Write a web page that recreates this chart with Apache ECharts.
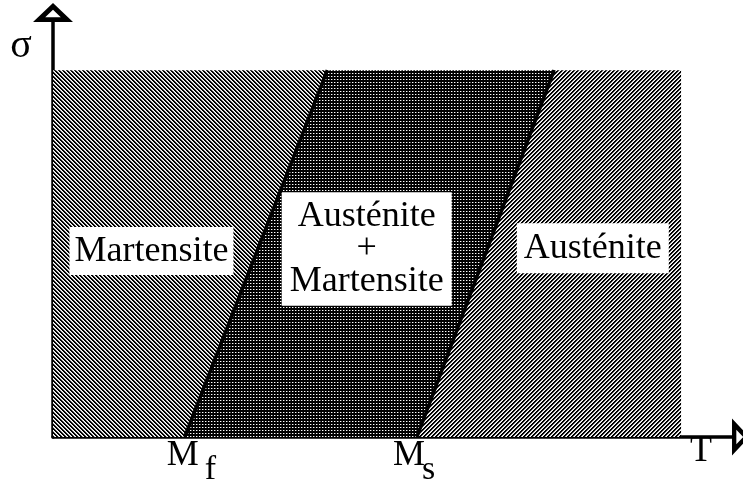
<!DOCTYPE html>
<html>
<head>
<meta charset="utf-8">
<title>Diagramme σ - T</title>
<script src="https://cdn.jsdelivr.net/npm/echarts@6/dist/echarts.min.js"></script>
<style>
    html, body { margin: 0; padding: 0; background: #fff; }
    #chart { width: 743px; height: 487px; }
</style>
</head>
<body>
<div id="chart"></div>
<script>
    // zones, de gauche a droite
    var phases = ['Martensite', 'Austénite\n+\nMartensite', 'Austénite'];
    // T aux coins de chaque zone
    var tBottomLeft = [0, 19.4, 53.6];
    var tTopLeft = [0, 40.4, 73.8];
    var tTopRight = [40.4, 73.8, 92.5];
    var tBottomRight = [19.4, 53.6, 92.5];
    var sigmaTop = 88.4;
    // centre des etiquettes
    var labelT = [14.5, 46.2, 79.5];
    var labelSigma = [44.8, 45.3, 45.5];
    // droites Mf et Ms
    var lineSubs = ['f', 's'];
    var lineBottomT = [19.4, 53.6];
    var lineTopT = [40.4, 73.8];

    var FONT = '"Liberation Serif", "Times New Roman", serif';

    // petits motifs de remplissage
    function tile(size, draw) {
        var c = document.createElement('canvas');
        c.width = size;
        c.height = size;
        var ctx = c.getContext('2d');
        ctx.fillStyle = '#fff';
        ctx.fillRect(0, 0, size, size);
        draw(ctx);
        return { image: c, repeat: 'repeat' };
    }
    var hatchBack = tile(4, function (ctx) {
        for (var i = 0; i < 4; i++) {
            ctx.fillStyle = '#000';
            ctx.fillRect(i, i, 1, 1);
            ctx.fillRect((i + 1) % 4, i, 1, 1);
            ctx.fillStyle = '#bbb';
            ctx.fillRect((i + 2) % 4, i, 1, 1);
        }
    });
    var hatchFwd = tile(4, function (ctx) {
        for (var i = 0; i < 4; i++) {
            ctx.fillStyle = '#000';
            ctx.fillRect(3 - i, i, 1, 1);
            ctx.fillRect((4 - i) % 4, i, 1, 1);
            ctx.fillStyle = '#bbb';
            ctx.fillRect((5 - i) % 4, i, 1, 1);
        }
    });
    var dots = tile(3, function (ctx) {
        ctx.fillStyle = '#000';
        ctx.fillRect(0, 0, 3, 3);
        ctx.fillStyle = '#fff';
        ctx.fillRect(1, 1, 1, 1);
        ctx.fillStyle = '#666';
        ctx.fillRect(2, 1, 1, 1);
    });
    var fills = [hatchBack, dots, hatchFwd];
    var pads = [[3, 5, 9, 5], [7, 8, 9, 8], [4, 7, 10, 7]];
    var lineHeights = [36, 32.5, 36];
    var mDx = [-18, -24];
    var subDx = [20, 5];

    // fleche creuse a bout d'axe
    var arrow = 'path://M18,0L36,17L0,17ZM18,6L11,12.8L25,12.8Z';

    function renderPhase(params, api) {
        var i = api.value(0);
        var pts = [
            api.coord([tBottomLeft[i], 0]),
            api.coord([tTopLeft[i], sigmaTop]),
            api.coord([tTopRight[i], sigmaTop]),
            api.coord([tBottomRight[i], 0])
        ];
        var c = api.coord([labelT[i], labelSigma[i]]);
        return {
            type: 'group',
            children: [
                { type: 'polygon', shape: { points: pts }, style: { fill: fills[i] } },
                {
                    type: 'text', x: c[0], y: c[1], z2: 5,
                    style: {
                        text: phases[i], fill: '#000', font: '36px ' + FONT,
                        align: 'center', verticalAlign: 'middle', lineHeight: lineHeights[i],
                        backgroundColor: '#fff', padding: pads[i]
                    }
                }
            ]
        };
    }

    function renderLine(params, api) {
        var i = api.value(0);
        var p0 = api.coord([lineBottomT[i], 0]);
        var p1 = api.coord([lineTopT[i], sigmaTop]);
        return {
            type: 'group',
            children: [
                { type: 'line', shape: { x1: p0[0], y1: p0[1], x2: p1[0], y2: p1[1] }, style: { stroke: '#000', lineWidth: 3.5 } },
                {
                    type: 'text', x: p0[0] + mDx[i], y: p0[1] + 19,
                    style: { text: 'M', fill: '#000', font: '36px ' + FONT, align: 'left', verticalAlign: 'middle' }
                },
                {
                    type: 'text', x: p0[0] + subDx[i], y: p0[1] + 33,
                    style: { text: lineSubs[i], fill: '#000', font: '34px ' + FONT, align: 'left', verticalAlign: 'middle' }
                }
            ]
        };
    }

    var myChart = echarts.init(document.getElementById('chart'));
    myChart.setOption({
        animation: false,
        backgroundColor: '#fff',
        grid: { left: 53, right: 11, top: 22, bottom: 50 },
        xAxis: {
            type: 'value', min: 0, max: 100,
            name: 'T', nameLocation: 'end', nameGap: -31,
            nameTextStyle: { fontFamily: FONT, fontSize: 36, color: '#000', align: 'center', verticalAlign: 'top', lineHeight: 29 },
            axisLine: {
                show: true, onZero: false,
                symbol: ['none', arrow], symbolSize: [37, 17.5], symbolOffset: [0, 8.75],
                lineStyle: { color: '#000', width: 3.5 }
            },
            axisTick: { show: false },
            axisLabel: { show: false },
            splitLine: { show: false }
        },
        yAxis: {
            type: 'value', min: 0, max: 100,
            name: 'σ', nameLocation: 'end', nameGap: -24.5,
            nameTextStyle: { fontFamily: FONT, fontSize: 40, color: '#000', align: 'center', verticalAlign: 'middle', padding: [0, 64, 0, 0] },
            axisLine: {
                show: true, onZero: false,
                symbol: ['none', arrow], symbolSize: [40, 19], symbolOffset: [0, 9.5],
                lineStyle: { color: '#000', width: 3.5 }
            },
            axisTick: { show: false },
            axisLabel: { show: false },
            splitLine: { show: false }
        },
        series: [
            {
                type: 'custom', name: 'zones', z: 1,
                renderItem: renderPhase,
                data: phases.map(function (p, i) { return [i]; })
            },
            {
                type: 'custom', name: 'limites', z: 2,
                renderItem: renderLine,
                data: lineSubs.map(function (s, i) { return [i]; })
            }
        ]
    });
</script>
</body>
</html>
